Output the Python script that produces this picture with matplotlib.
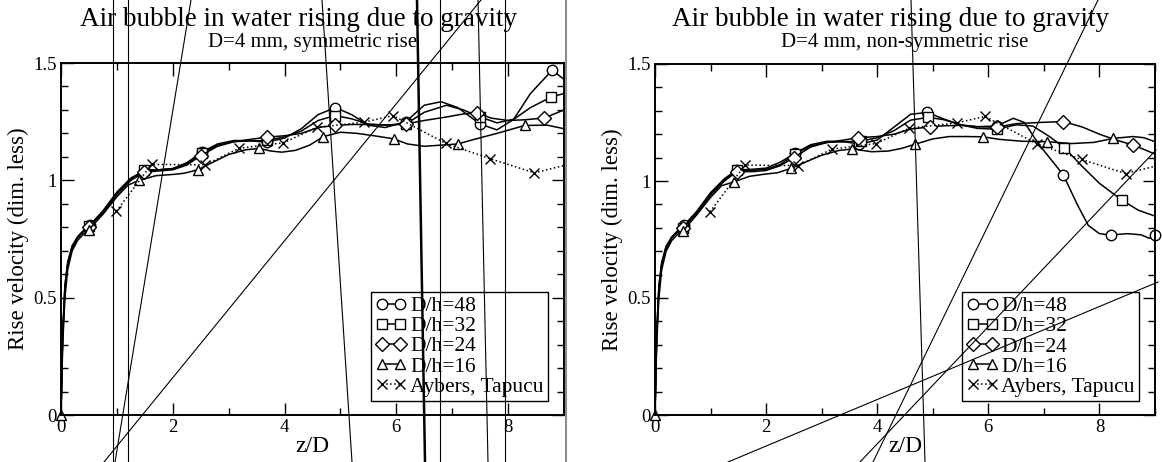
import numpy as np
import matplotlib
matplotlib.use("Agg")
import matplotlib.pyplot as plt
from matplotlib.lines import Line2D
from matplotlib.ticker import MultipleLocator

plt.rcParams['font.family'] = ['Liberation Serif', 'DejaVu Serif']

# ---- data: symmetric rise (left panel) ----
sym_48_x = [0, 0.03, 0.07, 0.12, 0.2, 0.3, 0.4, 0.52, 0.75, 1.0, 1.25, 1.49, 1.75, 2.0, 2.25, 2.52, 2.8, 3.1, 3.4,
            3.68, 4.0, 4.3, 4.6, 4.91, 5.2, 5.5, 5.8, 6.17, 6.5, 6.8, 7.1, 7.5, 7.8, 8.1, 8.4, 8.79, 9.0]
sym_48_y = [0, 0.35, 0.55, 0.65, 0.72, 0.76, 0.785, 0.81, 0.87, 0.95, 1.01, 1.04, 1.045, 1.05, 1.075, 1.12, 1.155,
            1.17, 1.168, 1.163, 1.18, 1.22, 1.28, 1.31, 1.28, 1.235, 1.225, 1.25, 1.32, 1.335, 1.31, 1.24, 1.215,
            1.26, 1.37, 1.47, 1.43]
sym_48_m = [0.52, 1.49, 2.52, 3.68, 4.91, 6.17, 7.5, 8.79]

sym_32_x = [0, 0.03, 0.07, 0.12, 0.2, 0.3, 0.4, 0.5, 0.75, 1.0, 1.25, 1.49, 1.75, 2.0, 2.25, 2.52, 2.8, 3.1, 3.4,
            3.68, 4.0, 4.3, 4.6, 4.91, 5.2, 5.5, 5.8, 6.17, 6.5, 6.9, 7.2, 7.5, 7.8, 8.1, 8.4, 8.77, 9.0]
sym_32_y = [0, 0.35, 0.55, 0.65, 0.72, 0.76, 0.785, 0.805, 0.865, 0.945, 1.005, 1.045, 1.045, 1.05, 1.07, 1.115,
            1.15, 1.165, 1.168, 1.17, 1.185, 1.21, 1.255, 1.276, 1.262, 1.24, 1.235, 1.24, 1.29, 1.32, 1.3, 1.27,
            1.245, 1.26, 1.31, 1.355, 1.37]
sym_32_m = [0.5, 1.49, 2.52, 3.68, 4.91, 6.17, 7.5, 8.77]

sym_24_x = [0, 0.03, 0.07, 0.12, 0.2, 0.3, 0.4, 0.5, 0.75, 1.0, 1.25, 1.49, 1.75, 2.0, 2.25, 2.5, 2.8, 3.1, 3.4,
            3.68, 4.0, 4.3, 4.6, 4.9, 5.2, 5.5, 5.8, 6.17, 6.5, 6.9, 7.2, 7.45, 7.7, 8.0, 8.3, 8.65, 9.0]
sym_24_y = [0, 0.33, 0.53, 0.64, 0.71, 0.755, 0.78, 0.8, 0.86, 0.94, 1.0, 1.035, 1.04, 1.045, 1.065, 1.105, 1.145,
            1.165, 1.175, 1.184, 1.19, 1.2, 1.225, 1.234, 1.238, 1.238, 1.236, 1.24, 1.255, 1.27, 1.283, 1.287,
            1.265, 1.255, 1.258, 1.266, 1.3]
sym_24_m = [0.5, 1.49, 2.5, 3.68, 4.9, 6.17, 7.45, 8.65]

sym_16_x = [0, 0.03, 0.07, 0.12, 0.2, 0.3, 0.4, 0.5, 0.75, 1.0, 1.2, 1.4, 1.7, 2.0, 2.2, 2.45, 2.7, 3.0, 3.3,
            3.55, 3.75, 3.95, 4.2, 4.45, 4.69, 5.0, 5.3, 5.6, 5.95, 6.2, 6.5, 6.8, 7.1, 7.4, 7.8, 8.3, 8.7, 9.0]
sym_16_y = [0, 0.3, 0.5, 0.62, 0.7, 0.745, 0.77, 0.79, 0.855, 0.93, 0.98, 1.0, 1.02, 1.025, 1.03, 1.045, 1.075,
            1.11, 1.13, 1.136, 1.125, 1.12, 1.128, 1.15, 1.186, 1.205, 1.2, 1.19, 1.177, 1.155, 1.145, 1.15, 1.155,
            1.175, 1.2, 1.234, 1.235, 1.22]
sym_16_m = [0, 0.5, 1.4, 2.45, 3.55, 4.69, 5.95, 7.1, 8.3]

# ---- data: non-symmetric rise (right panel) ----
non_48_x = [0, 0.03, 0.07, 0.12, 0.2, 0.3, 0.4, 0.52, 0.75, 1.0, 1.25, 1.47, 1.75, 2.0, 2.25, 2.52, 2.8, 3.1, 3.4,
            3.68, 4.0, 4.3, 4.6, 4.9, 5.2, 5.5, 5.8, 6.15, 6.45, 6.65, 6.9, 7.1, 7.35, 7.6, 7.8, 8.0, 8.2, 8.5,
            8.75, 8.9, 9.0]
non_48_y = [0, 0.35, 0.55, 0.65, 0.72, 0.76, 0.785, 0.81, 0.87, 0.95, 1.01, 1.047, 1.05, 1.055, 1.08, 1.118, 1.155,
            1.17, 1.168, 1.158, 1.175, 1.23, 1.285, 1.293, 1.265, 1.24, 1.232, 1.235, 1.268, 1.25, 1.16, 1.1, 1.026,
            0.9, 0.81, 0.775, 0.769, 0.775, 0.77, 0.755, 0.769]
non_48_m = [0.52, 1.47, 2.52, 3.68, 4.9, 6.15, 7.35, 8.2, 9.0]

non_32_x = [0, 0.03, 0.07, 0.12, 0.2, 0.3, 0.4, 0.5, 0.75, 1.0, 1.25, 1.47, 1.75, 2.0, 2.25, 2.52, 2.8, 3.1, 3.4,
            3.7, 4.0, 4.3, 4.6, 4.92, 5.2, 5.5, 5.8, 6.15, 6.5, 6.8, 7.1, 7.37, 7.7, 8.0, 8.4, 8.7, 9.0]
non_32_y = [0, 0.35, 0.55, 0.65, 0.72, 0.76, 0.785, 0.8, 0.865, 0.945, 1.005, 1.045, 1.045, 1.05, 1.07, 1.115,
            1.15, 1.165, 1.168, 1.17, 1.185, 1.215, 1.26, 1.272, 1.262, 1.24, 1.225, 1.221, 1.24, 1.235, 1.19,
            1.142, 1.06, 0.99, 0.919, 0.875, 0.85]
non_32_m = [0.5, 1.47, 2.52, 3.7, 4.92, 6.15, 7.37, 8.4]

non_24_x = [0, 0.03, 0.07, 0.12, 0.2, 0.3, 0.4, 0.5, 0.75, 1.0, 1.25, 1.47, 1.75, 2.0, 2.25, 2.5, 2.8, 3.1, 3.4,
            3.65, 4.0, 4.3, 4.6, 4.95, 5.2, 5.5, 5.8, 6.15, 6.5, 6.9, 7.35, 7.7, 8.0, 8.3, 8.6, 8.8, 9.0]
non_24_y = [0, 0.33, 0.53, 0.64, 0.71, 0.755, 0.78, 0.8, 0.86, 0.94, 1.0, 1.04, 1.04, 1.045, 1.065, 1.1, 1.145,
            1.165, 1.175, 1.185, 1.19, 1.2, 1.222, 1.231, 1.236, 1.238, 1.232, 1.23, 1.245, 1.25, 1.254, 1.23,
            1.2, 1.175, 1.154, 1.135, 1.115]
non_24_m = [0.5, 1.47, 2.5, 3.65, 4.95, 6.15, 7.35, 8.6]

non_16_x = [0, 0.03, 0.07, 0.12, 0.2, 0.3, 0.4, 0.5, 0.75, 1.0, 1.2, 1.43, 1.7, 2.0, 2.2, 2.45, 2.7, 3.0, 3.3,
            3.55, 3.9, 4.2, 4.45, 4.68, 5.0, 5.3, 5.6, 5.9, 6.2, 6.6, 7.05, 7.5, 7.9, 8.25, 8.6, 8.8, 9.0]
non_16_y = [0, 0.3, 0.5, 0.62, 0.7, 0.745, 0.77, 0.785, 0.855, 0.93, 0.98, 0.997, 1.02, 1.03, 1.035, 1.054, 1.08,
            1.11, 1.13, 1.137, 1.125, 1.128, 1.14, 1.157, 1.18, 1.19, 1.19, 1.189, 1.178, 1.17, 1.168, 1.16,
            1.165, 1.182, 1.19, 1.185, 1.168]
non_16_m = [0, 0.5, 1.43, 2.45, 3.55, 4.68, 5.9, 7.05, 8.25]

# experiment (Aybers, Tapucu), same in both panels
exp_x = [0.99, 1.62, 2.58, 3.18, 3.98, 4.58, 5.43, 5.94, 6.88, 7.68, 8.47, 9.0]
exp_y = [0.868, 1.068, 1.066, 1.136, 1.16, 1.226, 1.248, 1.276, 1.158, 1.092, 1.032, 1.063]

labels = ['D/h=48', 'D/h=32', 'D/h=24', 'D/h=16', 'Aybers, Tapucu']
markers = ['o', 's', 'D', '^']
title = 'Air bubble in water rising due to gravity'
subtitles = ['D=4 mm, symmetric rise', 'D=4 mm, non-symmetric rise']

panels = [
    [(sym_48_x, sym_48_y, sym_48_m), (sym_32_x, sym_32_y, sym_32_m),
     (sym_24_x, sym_24_y, sym_24_m), (sym_16_x, sym_16_y, sym_16_m)],
    [(non_48_x, non_48_y, non_48_m), (non_32_x, non_32_y, non_32_m),
     (non_24_x, non_24_y, non_24_m), (non_16_x, non_16_y, non_16_m)],
]

# stray straight lines that cross the original picture (pixel coords, y down)
stray_lines = [
    ((113, 0), (113, 462), 0.8), ((128, 0), (128, 462), 0.8),
    ((191, 0), (115, 462), 0.8), ((481, 0), (104, 462), 0.8),
    ((322, 0), (352, 462), 0.8), ((417, 0), (425, 462), 1.8),
    ((440, 0), (440, 462), 0.8), ((478, 0), (488, 462), 0.8),
    ((505, 0), (505, 462), 0.8),
    ((911, 0), (925, 462), 0.8), ((1098, 0), (873, 462), 0.8),
    ((860, 462), (1156, 150), 0.8), ((728, 462), (1158, 282), 0.8),
]

W, H = 1162, 462
fig = plt.figure(figsize=(W / 100, H / 100), dpi=100)
boxes = [(61, 564, 63, 415), (655, 1155, 64, 415)]

for i, (x0, x1, ytop, ybot) in enumerate(boxes):
    ax = fig.add_axes([x0 / W, 1 - ybot / H, (x1 - x0) / W, (ybot - ytop) / H])
    handles = []
    for (xs, ys, mk), m, lab in zip(panels[i], markers, labels):
        xs = np.asarray(xs)
        idx = [int(np.argmin(np.abs(xs - v))) for v in mk]
        h, = ax.plot(xs, ys, '-', color='black', lw=1.1, marker=m, markevery=idx,
                     ms=7.5 if m != 'D' else 7, mfc='white', mec='black', mew=1.0, label=lab, clip_on=False)
        handles.append(h)
    h, = ax.plot(exp_x, exp_y, ':', color='black', lw=1.1, marker='x', markevery=list(range(len(exp_x) - 1)),
                 ms=6.5, mew=1.0, label=labels[4])
    handles.append(h)

    ax.set_xlim(0, 9)
    ax.set_ylim(0, 1.5)
    ax.xaxis.set_major_locator(MultipleLocator(2))
    ax.xaxis.set_minor_locator(MultipleLocator(1))
    ax.yaxis.set_major_locator(MultipleLocator(0.5))
    ax.yaxis.set_minor_locator(MultipleLocator(0.1))
    ax.set_yticks([0, 0.5, 1, 1.5], ['0', '0.5', '1', '1.5'])
    ax.tick_params(which='both', direction='in', top=True, right=True, labelsize=13.5, width=1, pad=3)
    ax.tick_params(which='major', length=9)
    ax.tick_params(which='minor', length=5)
    for s in ax.spines.values():
        s.set_linewidth(1.4)
    ax.set_xlabel('z/D', fontsize=17, labelpad=0)
    ax.set_ylabel('Rise velocity (dim. less)', fontsize=16.5, labelpad=3)

    leg = ax.legend(handles=handles, loc='lower right', bbox_to_anchor=(0.968, 0.04), borderaxespad=0,
                    fontsize=15.5, numpoints=2, handlelength=1.45, handletextpad=0.15, labelspacing=0.0,
                    borderpad=0.2, fancybox=False, framealpha=1)
    leg.get_frame().set_edgecolor('black')
    leg.get_frame().set_linewidth(1.0)

    cx = (x0 + x1) / 2 / W
    fig.text(cx - 0.012, 1 - 20 / H, title, ha='center', va='center', fontsize=19.5)
    fig.text(cx, 1 - 43 / H, subtitles[i], ha='center', va='center', fontsize=15)

for (xa, ya), (xb, yb), lw in stray_lines:
    fig.add_artist(Line2D([xa / W, xb / W], [1 - ya / H, 1 - yb / H], transform=fig.transFigure,
                          color='black', lw=lw, zorder=10))
fig.add_artist(Line2D([566 / W, 566 / W], [0, 1], transform=fig.transFigure, color='0.55', lw=1.5, zorder=10))

fig.savefig('out.png', dpi=100)
